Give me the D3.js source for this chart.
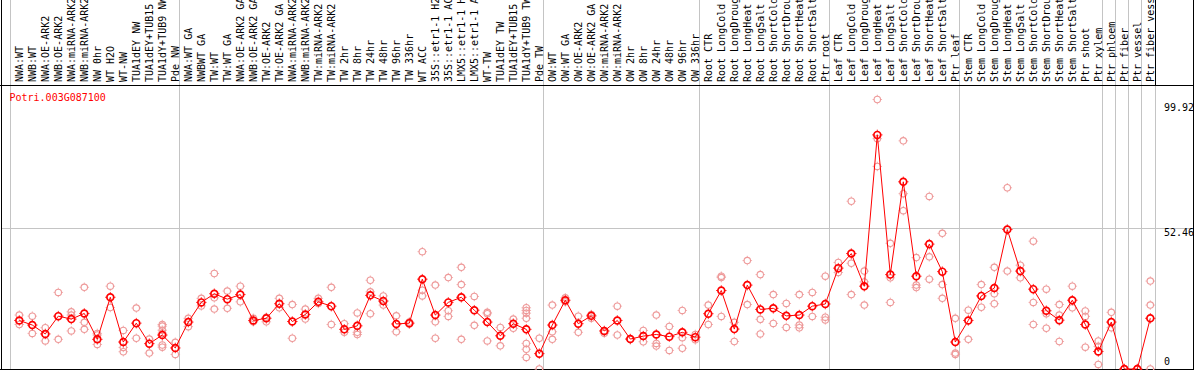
<!DOCTYPE html>
<html>
<head>
<meta charset="utf-8">
<script src="https://cdn.jsdelivr.net/npm/d3@7"></script>
<style>
  body { margin: 0; background: #fff; }
  text { font-family: "DejaVu Sans Mono", monospace; font-size: 10px; }
</style>
</head>
<body>
<svg id="chart" width="1194" height="370"></svg>
<script>
// gene being plotted
const geneName = 'Potri.003G087100';

// sample names (one per column)
const labels = [
  'NWA:WT', 'NWB:WT', 'NWA:OE-ARK2', 'NWB:OE-ARK2', 'NWA:miRNA-ARK2', 'NWB:miRNA-ARK2',
  'NW 0hr', 'WT H2O', 'WT-NW', 'TUA1dEY NW', 'TUA1dEY+TUB15', 'TUA1dY+TUB9 NW', 'Pde NW',
  'NWA:WT GA', 'NWBWT GA', 'TW:WT', 'TW:WT GA', 'NWA:OE-ARK2 GA', 'NWB:OE-ARK2 GA',
  'TW:OE-ARK2', 'TW:OE-ARK2 GA', 'NWA:miRNA-ARK2 ', 'NWB:miRNA-ARK2 ', 'TW:miRNA-ARK2',
  'TW:miRNA-ARK2 ', 'TW 2hr', 'TW 8hr', 'TW 24hr', 'TW 48hr', 'TW 96hr', 'TW 336hr',
  'WT ACC', '35S::etr1-1 H2O', '35S::etr1-1 ACC', 'LMX5::etr1-1 H2O', 'LMX5::etr1-1 ACC',
  'WT-TW', 'TUA1dEY TW', 'TUA1dEY+TUB15 ', 'TUA1dY+TUB9 TW', 'Pde TW',
  'OW:WT', 'OW:WT GA', 'OW:OE-ARK2', 'OW:OE-ARK2 GA', 'OW:miRNA-ARK2', 'OW:miRNA-ARK2 ',
  'OW 2hr', 'OW 8hr', 'OW 24hr', 'OW 48hr', 'OW 96hr', 'OW 336hr',
  'Root CTR', 'Root LongCold', 'Root LongDrought', 'Root LongHeat', 'Root LongSalt',
  'Root ShortCold', 'Root ShortDrought', 'Root ShortHeat', 'Root ShortSalt', 'Ptr root',
  'Leaf CTR', 'Leaf LongCold', 'Leaf LongDrought', 'Leaf LongHeat', 'Leaf LongSalt',
  'Leaf ShortCold', 'Leaf ShortDrought', 'Leaf ShortHeat', 'Leaf ShortSalt', 'Ptr leaf',
  'Stem CTR', 'Stem LongCold', 'Stem LongDrought', 'Stem LongHeat', 'Stem LongSalt',
  'Stem ShortCold', 'Stem ShortDrought', 'Stem ShortHeat', 'Stem ShortSalt', 'Ptr shoot',
  'Ptr xylem', 'Ptr phloem', 'Ptr fiber', 'Ptr vessel', 'Ptr fiber vessel'
];

// columns where a new sample group starts
const groupStarts = ['NWA:WT', 'NWA:WT GA', 'OW:WT', 'Root CTR', 'Leaf CTR', 'Stem CTR',
  'Ptr phloem', 'Ptr fiber', 'Ptr vessel', 'Ptr fiber vessel'];

// mean expression per column
const means = [
  18.0, 16.3, 13.0, 19.6, 18.5, 20.6, 11.0, 26.6, 10.0, 17.0, 9.4, 12.6, 7.8,
  17.4, 24.7, 27.9, 25.9, 27.6, 18.0, 18.8, 24.2, 17.6, 20.2, 24.9, 23.3, 14.7, 16.0,
  27.3, 25.2, 16.7, 17.0, 33.3, 20.0, 24.7, 26.6, 21.8, 17.4, 12.3, 16.8, 14.7, 5.7,
  16.3, 25.5, 16.8, 19.7, 14.1, 18.0, 11.1, 12.2, 12.8, 12.0, 13.6, 11.8,
  20.5, 29.1, 14.8, 31.1, 22.1, 22.5, 19.7, 20.0, 23.3, 24.1,
  37.4, 42.8, 30.7, 86.8, 35.0, 69.4, 34.4, 46.3, 36.1, 10.0,
  18.0, 27.1, 30.0, 51.7, 36.3, 29.6, 21.6, 18.1, 25.5, 16.5, 6.5,
  17.4, 0, 0, 18.8
];

// individual replicates per column
const replicates = [
  [20.0, 16.5], [19.6, 13.2], [15.3, 10.4], [28.4, 11.0], [21.2, 20.0, 14.1],
  [30.3, 17.3, 14.7], [13.2, 9.1, 12.6], [30.7, 22.8], [14.3, 8.0, 6.4], [22.6, 11.4],
  [11.1, 5.9], [16.5, 15.9, 14.4, 13.3, 8.9, 8.1], [9.9, 5.4],
  [18.8, 15.7], [26.2, 23.4], [35.4, 26.4, 22.2], [28.9, 22.5], [30.7, 24.9],
  [18.8, 17.5], [19.2, 17.5], [26.2, 22.7], [23.9, 11.4], [22.2, 18.5], [26.2, 24.3],
  [30.3, 16.5], [16.8, 13.6], [20.8, 13.6, 12.8], [32.9, 28.6, 20.5], [27.1, 23.7],
  [19.7, 13.8], [17.4, 16.7], [43.5, 29.2, 27.1], [31.1, 17.5, 11.4], [33.9, 21.6, 19.5],
  [37.7, 31.3, 11.0], [26.9, 16.2], [21.0, 20.5, 10.4], [15.4, 8.6], [18.5, 15.1],
  [22.7, 21.7, 20.7, 18.8, 9.5, 7.3, 4.3], [11.4, 0], [23.7, 13.8, 11.0],
  [26.4, 24.9], [19.6, 13.6], [20.2, 18.8], [13.3, 14.1], [23.3, 12.6], [11.1],
  [14.3, 10.1], [20.0, 9.5, 8.5], [15.8, 6.9], [21.7, 11.6, 7.7], [12.8, 10.8],
  [23.7, 16.5], [34.4, 33.9, 19.5], [17.3, 10.2], [40.2, 23.9], [35.0, 18.4, 13.0],
  [27.6, 16.9], [24.3, 15.4], [27.6, 16.3, 15.3], [28.4, 19.5], [34.4, 19.2, 18.2],
  [39.5, 35.8], [62.2, 39.2, 27.6], [36.3, 32.3, 23.7], [99.92, 85.4, 75.1],
  [46.6, 33.8, 24.7], [84.6, 65.0, 58.7], [41.3, 31.1, 30.2], [64.0, 41.6, 33.3],
  [50.3, 31.3, 26.2], [18.8, 5.9, 5.4],
  [21.8, 11.0], [31.3, 22.9], [37.7, 27.9, 24.2], [67.2, 36.3], [38.5, 33.8],
  [47.4, 24.7, 16.5], [29.6, 20.5, 15.1], [23.9, 20.0, 10.2], [30.7, 22.7],
  [21.5, 19.5, 8.1], [10.4, 8.4, 1.7],
  [21.0, 15.3], [0, 0], [0, 0], [32.6, 23.7, 0]
];

// right-hand axis ticks
const yTicks = [0, 52.46, 99.92];
const gridTicks = [52.46];

const svg = d3.select('#chart');
const width = +svg.attr('width');
const headerBottom = 85;
const plotBottom = 369;
const colRight = 1155;

svg.append('rect').attr('width', width).attr('height', 370).attr('fill', '#fff');

const x = d3.scaleBand().domain(labels).range([11, colRight]);
const y = d3.scaleLinear().domain([0, 99.92]).range([plotBottom, 99.5]);
const cx = l => x(l) + 8.3;

// grid
svg.append('g').selectAll('line')
  .data(gridTicks)
  .join('line')
  .attr('x1', 1).attr('x2', width)
  .attr('y1', d => Math.round(y(d)) + 0.5).attr('y2', d => Math.round(y(d)) + 0.5)
  .attr('stroke', '#c4c4c4');

svg.append('g').selectAll('line')
  .data(groupStarts)
  .join('line')
  .attr('x1', d => x(d) - 0.5).attr('x2', d => x(d) - 0.5)
  .attr('y1', 0).attr('y2', plotBottom)
  .attr('stroke', '#c4c4c4');
svg.append('line')
  .attr('x1', colRight + 0.5).attr('x2', colRight + 0.5)
  .attr('y1', headerBottom).attr('y2', plotBottom)
  .attr('stroke', '#c4c4c4');

// frame
const frame = svg.append('g').attr('stroke', '#000');
frame.append('line').attr('x1', 1.5).attr('x2', 1.5).attr('y1', 0).attr('y2', 370);
frame.append('line').attr('x1', width - 0.5).attr('x2', width - 0.5).attr('y1', 0).attr('y2', 370);
frame.append('line').attr('x1', 0).attr('x2', width).attr('y1', headerBottom + 0.5).attr('y2', headerBottom + 0.5);
frame.append('line').attr('x1', 0).attr('x2', width).attr('y1', plotBottom + 0.5).attr('y2', plotBottom + 0.5);
frame.append('line').attr('x1', colRight + 0.5).attr('x2', colRight + 0.5).attr('y1', 0).attr('y2', headerBottom);

// column labels (long ones run off the top, as in the original)
svg.append('g').selectAll('text')
  .data(labels)
  .join('text')
  .attr('transform', d => `translate(${x(d) + 11.8},${headerBottom - 3}) rotate(-90)`)
  .attr('fill', '#000')
  .text(d => d.trim());

// y labels on the right
svg.append('g').selectAll('text')
  .data(yTicks)
  .join('text')
  .attr('x', 1164)
  .attr('y', d => Math.max(111, Math.min(y(d) + 8.5, 365)))
  .attr('fill', '#000')
  .text(d => d);

// title
svg.append('text')
  .attr('x', 9.5).attr('y', 100.5)
  .attr('fill', '#ff0000')
  .text(geneName);

// circle plus tiny ticks, like the original bitmap markers
function drawMarkers(g, r, color, sw) {
  g.append('circle')
    .attr('r', r)
    .attr('fill', 'none')
    .attr('stroke', color)
    .attr('stroke-width', sw);
  const t = r + sw / 2 + 1;
  g.append('path')
    .attr('d', `M0,${-t}V${-r}M0,${r}V${t}M${-t},0H${-r}M${r},0H${t}`)
    .attr('stroke', color)
    .attr('stroke-width', 0.8);
}

const reps = labels.flatMap((l, i) => replicates[i].map(v => ({ l, v })));

svg.append('g').selectAll('g')
  .data(reps)
  .join('g')
  .attr('transform', d => `translate(${cx(d.l)},${y(d.v)})`)
  .call(g => drawMarkers(g, 3.2, '#ee9a9a', 1.1));

svg.append('g').selectAll('g')
  .data(labels)
  .join('g')
  .attr('transform', (d, i) => `translate(${cx(d)},${y(means[i])})`)
  .call(g => drawMarkers(g, 3.4, '#ff0000', 1.7));

const line = d3.line()
  .x(d => cx(d))
  .y((d, i) => y(means[i]));

svg.append('path')
  .datum(labels)
  .attr('fill', 'none')
  .attr('stroke', '#ff0000')
  .attr('stroke-width', 1)
  .attr('d', line);
</script>
</body>
</html>
